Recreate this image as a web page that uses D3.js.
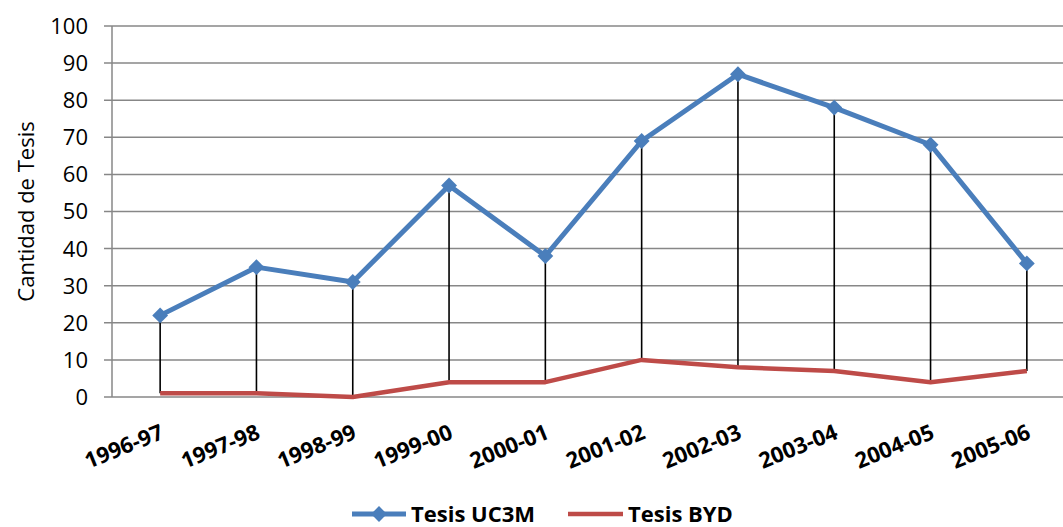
<!DOCTYPE html>
<html>
<head>
<meta charset="utf-8">
<script src="https://cdn.jsdelivr.net/npm/d3@7"></script>
<style>
  body { margin: 0; background: #fff; }
  text { font-family: "Open Sans", "Liberation Sans", sans-serif; }
</style>
</head>
<body>
<script>
// data
var years = ["1996-97", "1997-98", "1998-99", "1999-00", "2000-01",
             "2001-02", "2002-03", "2003-04", "2004-05", "2005-06"];
var tesisUC3M = [22, 35, 31, 57, 38, 69, 87, 78, 68, 36];
var tesisBYD = [1, 1, 0, 4, 4, 10, 8, 7, 4, 7];
var yTicks = [0, 10, 20, 30, 40, 50, 60, 70, 80, 90, 100];
var seriesNames = ["Tesis UC3M", "Tesis BYD"];

var width = 1063, height = 527;
var blue = "#4a7ebb", red = "#be4b48";

var svg = d3.select("body")
  .append("svg")
  .attr("width", width)
  .attr("height", height);

// scales
var x = d3.scaleBand()
  .domain(years)
  .range([112, 1075]);

var y = d3.scaleLinear()
  .domain([0, 100])
  .range([397, 26]);

// gridlines
svg.append("g")
  .selectAll("line")
  .data(yTicks)
  .enter().append("line")
    .attr("x1", 104)
    .attr("x2", width)
    .attr("y1", function(d) { return y(d); })
    .attr("y2", function(d) { return y(d); })
    .attr("stroke", "#878787")
    .attr("stroke-width", 1.5);

// y axis line
svg.append("line")
  .attr("x1", 112).attr("x2", 112)
  .attr("y1", y(100)).attr("y2", y(0))
  .attr("stroke", "#878787")
  .attr("stroke-width", 1.5);

// y tick labels
svg.append("g")
  .selectAll("text")
  .data(yTicks)
  .enter().append("text")
    .attr("x", 88)
    .attr("y", function(d) { return y(d); })
    .attr("dy", "0.36em")
    .attr("text-anchor", "end")
    .attr("font-size", 22)
    .attr("fill", "#000")
    .text(function(d) { return d; });

// y axis title
svg.append("text")
  .attr("transform", "translate(26," + ((y(0) + y(100)) / 2) + ") rotate(-90)")
  .attr("text-anchor", "middle")
  .attr("dy", "0.36em")
  .attr("font-size", 22)
  .attr("fill", "#000")
  .text("Cantidad de Tesis");

// x labels, rotated
svg.append("g")
  .selectAll("text")
  .data(years)
  .enter().append("text")
    .attr("transform", function(d) {
      return "translate(" + (x(d) + x.bandwidth() / 2 + 5) + ",438) rotate(-22)";
    })
    .attr("text-anchor", "end")
    .attr("font-size", 22)
    .attr("font-weight", "bold")
    .attr("fill", "#000")
    .text(function(d) { return d; });

var cx = function(i) { return x(years[i]) + x.bandwidth() / 2; };

// drop lines between the series
svg.append("g")
  .selectAll("line")
  .data(years)
  .enter().append("line")
    .attr("x1", function(d, i) { return cx(i); })
    .attr("x2", function(d, i) { return cx(i); })
    .attr("y1", function(d, i) { return y(tesisUC3M[i]); })
    .attr("y2", function(d, i) { return y(tesisBYD[i]); })
    .attr("stroke", "#000")
    .attr("stroke-width", 1.6);

var line = d3.line()
  .x(function(d, i) { return cx(i); })
  .y(function(d) { return y(d); });

svg.append("path")
  .datum(tesisBYD)
  .attr("fill", "none")
  .attr("stroke", red)
  .attr("stroke-width", 4.5)
  .attr("stroke-linejoin", "round")
  .attr("d", line);

svg.append("path")
  .datum(tesisUC3M)
  .attr("fill", "none")
  .attr("stroke", blue)
  .attr("stroke-width", 5)
  .attr("stroke-linejoin", "round")
  .attr("d", line);

// diamond markers
var diamond = d3.symbol().type(d3.symbolDiamond2).size(160);
svg.append("g")
  .selectAll("path")
  .data(tesisUC3M)
  .enter().append("path")
    .attr("transform", function(d, i) { return "translate(" + cx(i) + "," + y(d) + ")"; })
    .attr("d", diamond)
    .attr("fill", blue);

// legend
var legend = svg.append("g").attr("transform", "translate(0,514)");

legend.append("line")
  .attr("x1", 352).attr("x2", 406)
  .attr("stroke", blue).attr("stroke-width", 5);
legend.append("path")
  .attr("transform", "translate(379,0)")
  .attr("d", diamond)
  .attr("fill", blue);
legend.append("text")
  .attr("x", 411).attr("dy", "0.36em")
  .attr("font-size", 22).attr("font-weight", "bold")
  .text(seriesNames[0]);

legend.append("line")
  .attr("x1", 568).attr("x2", 623)
  .attr("stroke", red).attr("stroke-width", 4.5);
legend.append("text")
  .attr("x", 628).attr("dy", "0.36em")
  .attr("font-size", 22).attr("font-weight", "bold")
  .text(seriesNames[1]);
</script>
</body>
</html>
